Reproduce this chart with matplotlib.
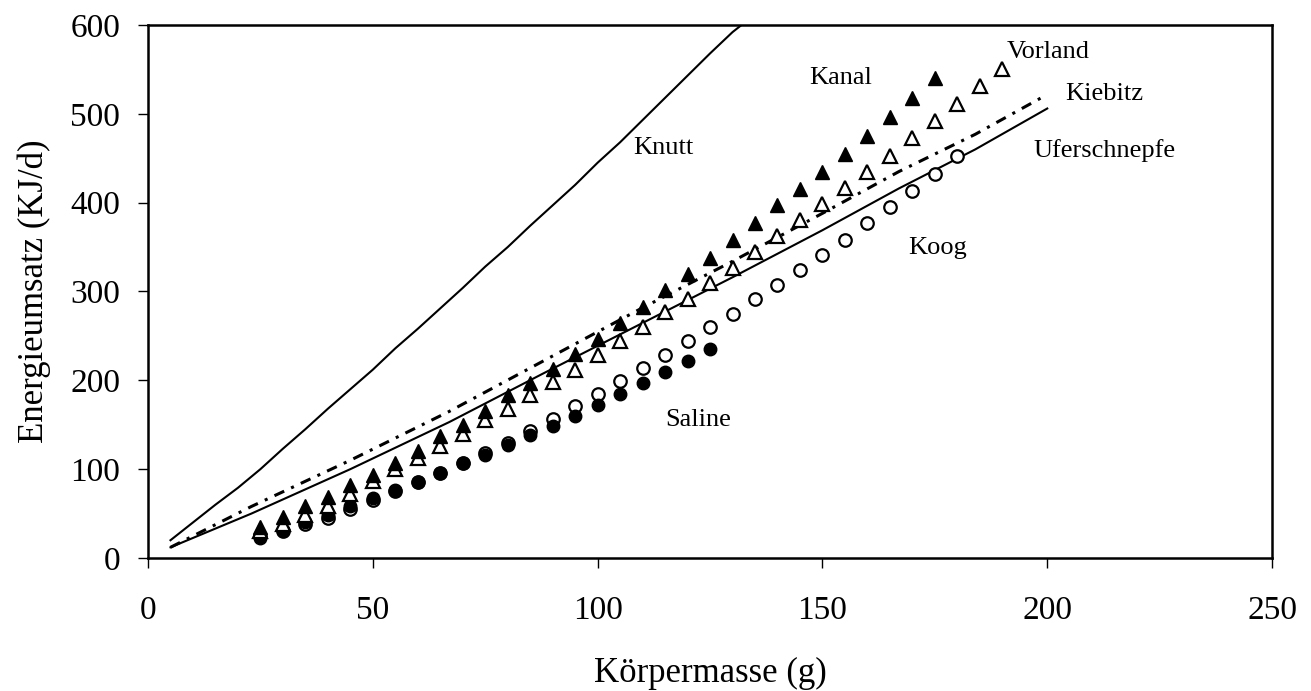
import matplotlib.pyplot as plt
import numpy as np

plt.rcParams['font.family'] = ['Liberation Serif', 'DejaVu Serif']

# Linien (Modellkurven)
knutt_x = [5, 10, 15, 20, 25, 30, 35, 40, 45, 50, 55, 60, 65, 70, 75, 80, 85, 90, 95,
           100, 105, 110, 115, 120, 125, 130, 132]
knutt_y = [20, 40, 60, 79, 100, 123, 145, 168, 190, 212, 236, 258, 281, 304, 328, 350,
           374, 397, 420, 445, 468, 493, 518, 543, 568, 592, 600]

kiebitz_x = [5, 23, 45, 67, 88, 109, 130, 150, 167, 184, 199]
kiebitz_y = [12, 58, 110, 165, 222, 279, 334, 388, 435, 477, 519]

ufer_x = [5, 23, 45, 67, 88, 109, 130, 150, 167, 184, 200]
ufer_y = [12, 50, 100, 153, 208, 262, 316, 369, 416, 460, 506]

# Messpunkte
kanal_x = list(range(25, 180, 5))
kanal_y = [35, 46, 58, 69, 82, 93, 107, 120, 137, 150, 166, 183, 197, 213, 230, 247,
           265, 283, 302, 320, 338, 358, 377, 397, 415, 435, 455, 475, 497, 518, 540]

vorland_x = list(range(25, 195, 5))
vorland_y = [30, 38, 48, 58, 72, 87, 100, 113, 126, 140, 155, 168, 183, 198, 212, 228,
             244, 260, 277, 292, 310, 326, 344, 362, 380, 398, 416, 434, 453, 473, 492,
             511, 531, 550]

koog_x = list(range(25, 185, 5))
koog_y = [25, 30, 38, 45, 55, 65, 75, 86, 96, 107, 118, 130, 143, 157, 171, 185, 199,
          214, 228, 244, 260, 275, 291, 307, 324, 341, 358, 377, 395, 413, 432, 452]

saline_x = list(range(25, 130, 5))
saline_y = [22, 32, 40, 48, 58, 67, 76, 86, 96, 107, 116, 127, 138, 149, 160, 172, 185,
            197, 209, 222, 235]

labels = [("Knutt", 108, 462), ("Kanal", 147, 540), ("Vorland", 191, 570),
          ("Kiebitz", 204, 522), ("Uferschnepfe", 197, 459), ("Koog", 169, 349),
          ("Saline", 115, 155)]

fig = plt.figure(figsize=(13.11, 6.91), dpi=100)
ax = fig.add_axes([0.1129, 0.1925, 0.8574, 0.7713])

ax.plot(knutt_x, knutt_y, color='black', lw=1.5)
ax.plot(ufer_x, ufer_y, color='black', lw=1.5)
ax.plot(kiebitz_x, kiebitz_y, color='black', lw=2.2, linestyle=(0, (3.5, 2.5, 1, 2.5)))

ax.plot(koog_x, koog_y, 'o', ms=9, mfc='white', mec='black', mew=1.6, linestyle='none')
ax.plot(saline_x, saline_y, 'o', ms=9, mfc='black', mec='black', linestyle='none')
ax.plot(vorland_x, vorland_y, '^', ms=10, mfc='white', mec='black', mew=1.6, linestyle='none')
ax.plot(kanal_x, kanal_y, '^', ms=10, mfc='black', mec='black', linestyle='none')

for txt, x, y in labels:
    ax.text(x, y, txt, fontsize=19, ha='left', va='center')

ax.set_xlim(0, 250)
ax.set_ylim(0, 600)
ax.set_xticks([0, 50, 100, 150, 200, 250])
ax.set_yticks([0, 100, 200, 300, 400, 500, 600])
ax.tick_params(direction='out', length=7, width=1, labelsize=24)
ax.tick_params(axis='y', pad=13)
ax.tick_params(axis='x', pad=20)
for s in ax.spines.values():
    s.set_linewidth(1.8)

ax.set_xlabel('Körpermasse (g)', fontsize=25, labelpad=22)
ax.set_ylabel('Energieumsatz (KJ/d)', fontsize=25, labelpad=14)

fig.savefig('out.png', dpi=100)
